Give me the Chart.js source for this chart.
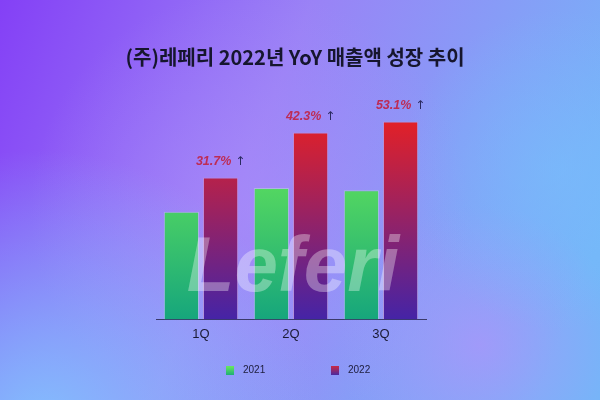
<!DOCTYPE html>
<html>
<head>
<meta charset="utf-8">
<script src="https://cdn.jsdelivr.net/npm/chart.js@4.4.0/dist/chart.umd.min.js"></script>
<style>
  html, body { margin: 0; padding: 0; }
  #wrap { width: 600px; height: 400px; }
</style>
</head>
<body>
<div id="wrap"><canvas id="chart" width="600" height="400"></canvas></div>
<script>
// data (relative revenue, arbitrary units)
const quarters = ['1Q', '2Q', '3Q'];
const sales2021 = [100, 122, 120];
const sales2022 = [131.7, 173.6, 183.7];
const growthLabels = ['31.7%', '42.3%', '53.1%'];
const seriesNames = ['2021', '2022'];

const titleText = '(주)레페리 2022년 YoY 매출액 성장 추이';
const TITLE_FONT = '"Noto Sans CJK KR", "Noto Sans", sans-serif';

function barGradient(ctx, chartArea, top, bottom) {
    const g = ctx.createLinearGradient(0, chartArea.top, 0, chartArea.bottom);
    g.addColorStop(0, top);
    g.addColorStop(1, bottom);
    return g;
}

// background gradient with soft colour blobs
const bgPlugin = {
    id: 'bg',
    beforeDraw(chart) {
        const { ctx, width, height } = chart;
        ctx.save();
        const lin = ctx.createLinearGradient(0, 0, width, height * 0.6);
        lin.addColorStop(0, '#8440f6');
        lin.addColorStop(0.45, '#9a82f6');
        lin.addColorStop(1, '#74b6f8');
        ctx.fillStyle = lin;
        ctx.fillRect(0, 0, width, height);

        const blobs = [
            [250, 210, 220, 'rgba(172,140,250,0.6)'],
            [40, 430, 280, 'rgba(128,206,255,0.85)'],
            [480, 345, 140, 'rgba(172,148,250,0.75)'],
            [560, 170, 160, 'rgba(120,190,252,0.6)']
        ];
        blobs.forEach(([x, y, r, c]) => {
            const rg = ctx.createRadialGradient(x, y, 0, x, y, r);
            rg.addColorStop(0, c);
            rg.addColorStop(1, c.replace(/[\d.]+\)$/, '0)'));
            ctx.fillStyle = rg;
            ctx.fillRect(0, 0, width, height);
        });
        ctx.restore();
    }
};

// growth labels, watermark and legend
const overlayPlugin = {
    id: 'overlay',
    afterDatasetsDraw(chart) {
        const { ctx, chartArea } = chart;
        ctx.save();

        // watermark
        ctx.font = 'italic bold 78px "Liberation Sans", Arial, sans-serif';
        ctx.fillStyle = 'rgba(255,255,255,0.34)';
        ctx.textAlign = 'center';
        ctx.textBaseline = 'alphabetic';
        ctx.fillText('Leferi', (chartArea.left + chartArea.right) / 2 + 2, 291);

        // growth labels above 2022 bars
        const pctFont = 'italic bold 12.5px "Liberation Sans", Arial, sans-serif';
        const arrowFont = '12px "DejaVu Sans", sans-serif';
        const meta = chart.getDatasetMeta(1);
        meta.data.forEach((bar, i) => {
            const y = bar.y - 16;
            const pct = growthLabels[i];
            const arrow = ' ↑';
            ctx.font = pctFont;
            const w1 = ctx.measureText(pct).width;
            ctx.font = arrowFont;
            const w2 = ctx.measureText(arrow).width;
            const x = bar.x - (w1 + w2) / 2;
            ctx.textAlign = 'left';
            ctx.textBaseline = 'middle';
            ctx.font = pctFont;
            ctx.fillStyle = '#bd2c55';
            ctx.fillText(pct, x, y);
            ctx.font = arrowFont;
            ctx.fillStyle = '#2a2a60';
            ctx.fillText(arrow, x + w1, y);
        });

        // legend
        const cx = (chartArea.left + chartArea.right) / 2;
        const items = [
            { x: cx - 65, color: barGradient(ctx, { top: 365, bottom: 375 }, '#72f05a', '#1fae76') },
            { x: cx + 40, color: barGradient(ctx, { top: 365, bottom: 375 }, '#d82a3a', '#4a2aa0') }
        ];
        ctx.font = '10px "Liberation Sans", Arial, sans-serif';
        ctx.textBaseline = 'middle';
        ctx.textAlign = 'left';
        items.forEach((it, i) => {
            ctx.fillStyle = it.color;
            ctx.fillRect(it.x, 366, 8, 9);
            ctx.fillStyle = '#1c1c3a';
            ctx.fillText(seriesNames[i], it.x + 17, 370.5);
        });
        ctx.restore();
    }
};

// invisible side axes just reserve room so the plot sits where the reference has it
const spacerAxis = (position, width) => ({
    position,
    display: true,
    min: 0,
    max: 200,
    grid: { display: false, drawTicks: false },
    border: { display: false },
    ticks: { display: false },
    afterFit(scale) { scale.width = width; }
});

new Chart(document.getElementById('chart'), {
    type: 'bar',
    data: {
        labels: quarters,
        datasets: [
            {
                label: seriesNames[0],
                data: sales2021,
                backgroundColor: (c) => c.chart.chartArea
                    ? barGradient(c.chart.ctx, c.chart.chartArea, '#7af550', '#16a67c')
                    : '#3ccf6a',
                borderColor: 'rgba(200,255,200,0.35)',
                borderWidth: 1
            },
            {
                label: seriesNames[1],
                data: sales2022,
                backgroundColor: (c) => c.chart.chartArea
                    ? barGradient(c.chart.ctx, c.chart.chartArea, '#f0201c', '#4524a6')
                    : '#a02a5a',
                borderColor: 'rgba(255,160,160,0.3)',
                borderWidth: 1
            }
        ]
    },
    options: {
        responsive: false,
        animation: false,
        layout: {
            padding: { left: 0, right: 10, top: 0, bottom: 51 }
        },
        categoryPercentage: 0.87,
        barPercentage: 0.9,
        plugins: {
            legend: { display: false },
            tooltip: { enabled: false },
            title: {
                display: true,
                text: titleText,
                color: '#16162e',
                font: { family: TITLE_FONT, size: 20, weight: 'bold' },
                padding: { top: 45, bottom: 35 }
            }
        },
        scales: {
            x: {
                grid: { display: false, drawTicks: false },
                border: { display: true, color: '#3a3a6a', width: 1 },
                ticks: {
                    color: '#1a1a33',
                    padding: 7,
                    font: { family: '"Liberation Sans", Arial, sans-serif', size: 13 }
                }
            },
            y: spacerAxis('left', 156),
            yRight: spacerAxis('right', 164)
        }
    },
    plugins: [bgPlugin, overlayPlugin]
});
</script>
</body>
</html>
